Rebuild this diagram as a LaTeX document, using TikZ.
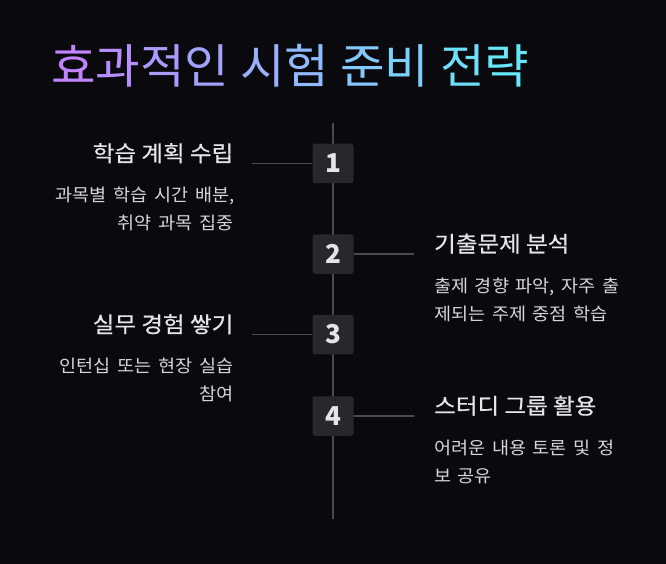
\documentclass[tikz,border=0pt]{standalone}
\usepackage{fontspec}
\setmainfont{Noto Sans CJK KR}
\newfontfamily\titlefont[FakeStretch=1.03]{Noto Sans CJK KR}
\newfontfamily\headfont[FakeStretch=1.07,FakeBold=0.5]{Noto Sans CJK KR}
\newfontfamily\descfont[FakeStretch=1.06,WordSpace=1.6]{Noto Sans CJK KR}
\definecolor{bg}{RGB}{9,9,14}
\definecolor{linec}{RGB}{74,74,80}
\definecolor{boxc}{RGB}{40,40,44}
\definecolor{numc}{RGB}{232,226,236}
\definecolor{headc}{RGB}{230,230,233}
\definecolor{descc}{RGB}{214,214,218}
\definecolor{tA}{RGB}{192,132,252}
\definecolor{tB}{RGB}{103,232,249}
\newcommand{\gch}[2]{\textcolor{tB!#1!tA}{#2}}
\tikzset{
  numbox/.style={fill=boxc, rounded corners=2.5pt, minimum width=41pt, minimum height=39.5pt, inner sep=0pt, text=numc, font=\fontsize{26}{30}\selectfont\bfseries},
  conn/.style={draw=linec, line width=1.6pt},
  headl/.style={anchor=base east, inner sep=0pt, text=headc, font=\headfont\fontsize{22}{26}\selectfont},
  headr/.style={anchor=base west, inner sep=0pt, text=headc, font=\headfont\fontsize{22}{26}\selectfont},
  descl/.style={anchor=base east, inner sep=0pt, text=descc, font=\descfont\fontsize{17.5}{20}\selectfont},
  descr/.style={anchor=base west, inner sep=0pt, text=descc, font=\descfont\fontsize{17.5}{20}\selectfont},
}
\begin{document}
\begin{tikzpicture}[x=1pt,y=-1pt]
\fill[bg] (0,0) rectangle (666,564);
\useasboundingbox (0,0) rectangle (666,564);
% title
\node[anchor=base west, inner sep=0pt, font=\titlefont\fontsize{47}{56}\selectfont] (title) at (51,84)
  {\gch{0}{효}\gch{10}{과}\gch{21}{적}\gch{31}{인} \gch{44}{시}\gch{54}{험} \gch{67}{준}\gch{77}{비} \gch{90}{전}\gch{100}{략}};
% timeline
\coordinate (top) at (333,123);
\coordinate (bot) at (333,519);
\draw[conn] (top) -- (bot);
\node[numbox] (b1) at (333,163.5) {1};
\node[numbox] (b2) at (333,254) {2};
\node[numbox] (b3) at (333,334.5) {3};
\node[numbox] (b4) at (333,416) {4};
\coordinate (e1) at (252,163.5);
\coordinate (e2) at (414,254);
\coordinate (e3) at (252,334.5);
\coordinate (e4) at (414,416);
\draw[conn] (e1) -- (b1.west);
\draw[conn] (b2.east) -- (e2);
\draw[conn] (e3) -- (b3.west);
\draw[conn] (b4.east) -- (e4);
% item 1
\node[headl] (h1) at (233.5,161.5) {학습 계획 수립};
\node[descl] (d1a) at (234.5,201.5) {과목별 학습 시간 배분,};
\node[descl] (d1b) at (233.5,229.5) {취약 과목 집중};
% item 2
\node[headr] (h2) at (434,252) {기출문제 분석};
\node[descr] (d2a) at (434,292) {출제 경향 파악, 자주 출};
\node[descr] (d2b) at (434,320) {제되는 주제 중점 학습};
% item 3
\node[headl] (h3) at (233.5,332.5) {실무 경험 쌓기};
\node[descl] (d3a) at (233.5,372.5) {인턴십 또는 현장 실습};
\node[descl] (d3b) at (233.5,400.5) {참여};
% item 4
\node[headr] (h4) at (434,414) {스터디 그룹 활용};
\node[descr] (d4a) at (434,454) {어려운 내용 토론 및 정};
\node[descr] (d4b) at (434,482) {보 공유};
\end{tikzpicture}
\end{document}
